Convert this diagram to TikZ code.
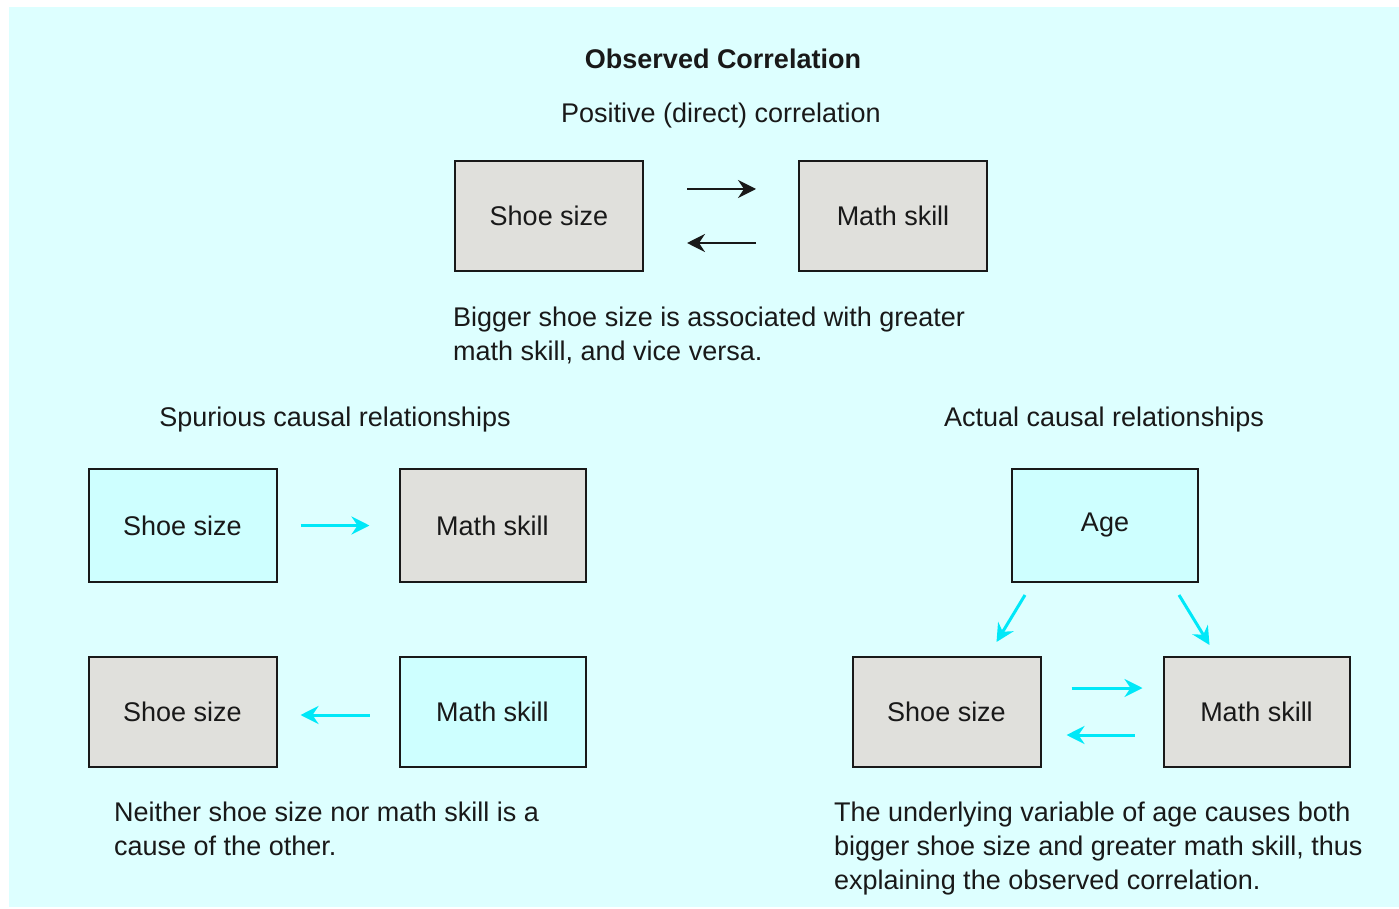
\documentclass[tikz,border=0pt]{standalone}
\usepackage{fontspec}
\setmainfont{Liberation Sans}
\usetikzlibrary{positioning,arrows.meta}
\definecolor{paleaqua}{RGB}{221,255,255}
\definecolor{boxaqua}{RGB}{206,255,255}
\definecolor{boxgrey}{RGB}{224,224,220}
\definecolor{aqua}{RGB}{0,232,248}
\definecolor{ink}{RGB}{25,25,25}

\begin{document}
\begin{tikzpicture}[x=1pt,y=-1pt,font=\fontsize{27}{34}\selectfont,text=ink,
  box/.style={rectangle,draw=ink,line width=2pt,minimum width=188pt,minimum height=110pt,fill=boxgrey},
  cbox/.style={box,fill=boxaqua},
  ar/.style={-{Stealth[length=18pt,width=18pt,inset=6pt]},ink,line width=2.5pt},
  car/.style={ar,aqua,line width=3pt},
  note/.style={anchor=north west,align=left,inner sep=0pt}]
  \useasboundingbox(0,0)rectangle(1399,909);
  \fill[paleaqua](9,7)rectangle(1399,907);

  % observed correlation
  \node[font=\fontsize{27}{34}\selectfont\bfseries](ttl) at (723,59){Observed Correlation};
  \node(sub) at (721,116){Positive (direct) correlation};
  \node[box](shoeA) at (549,216){Shoe size};
  \node[box,right=154pt of shoeA](mathA){Math skill};
  \draw[ar,shorten <=43pt,shorten >=42pt]([yshift=27pt]shoeA.east)--([yshift=27pt]mathA.west);
  \draw[ar,shorten <=42pt,shorten >=43pt]([yshift=-27pt]mathA.west)--([yshift=-27pt]shoeA.east);
  \node[note](capA) at (453,307){Bigger shoe size is associated with greater\\math skill, and vice versa.};

  % spurious
  \node(spur) at (335,420){Spurious causal relationships};
  \node[cbox,minimum height=113pt](shoeB) at (182.5,525.5){Shoe size};
  \node[box,minimum height=113pt,minimum width=186pt,right=121pt of shoeB](mathB){Math skill};
  \node[box,below=73pt of shoeB](shoeC){Shoe size};
  \node[cbox,minimum width=186pt,below=73pt of mathB](mathC){Math skill};
  \draw[car,shorten <=23pt,shorten >=29pt](shoeB.east)--(mathB.west);
  \draw[car,shorten <=29pt,shorten >=23pt]([yshift=-3pt]mathC.west)--([yshift=-3pt]shoeC.east);
  \node[note](capB) at (114,802){Neither shoe size nor math skill is a\\cause of the other.};

  % actual
  \node(act) at (1104,420){Actual causal relationships};
  \node[cbox,minimum height=113pt,minimum width=186pt](ageD) at (1105,525.5){Age};
  \node[box](shoeD) at (946.5,712){Shoe size};
  \node[box,minimum width=186pt,right=121pt of shoeD](mathD){Math skill};
  \draw[car]([xshift=14pt,yshift=-12pt]ageD.south west)--([xshift=50pt,yshift=14pt]shoeD.north);
  \draw[car]([xshift=-20pt,yshift=-12pt]ageD.south east)--([xshift=47pt,yshift=11pt]mathD.north west);
  \draw[car,shorten <=30pt,shorten >=20pt]([yshift=24pt]shoeD.east)--([yshift=24pt]mathD.west);
  \draw[car,shorten <=28pt,shorten >=25pt]([yshift=-23pt]mathD.west)--([yshift=-23pt]shoeD.east);
  \node[note](capC) at (834,802){The underlying variable of age causes both\\bigger shoe size and greater math skill, thus\\explaining the observed correlation.};
\end{tikzpicture}
\end{document}
